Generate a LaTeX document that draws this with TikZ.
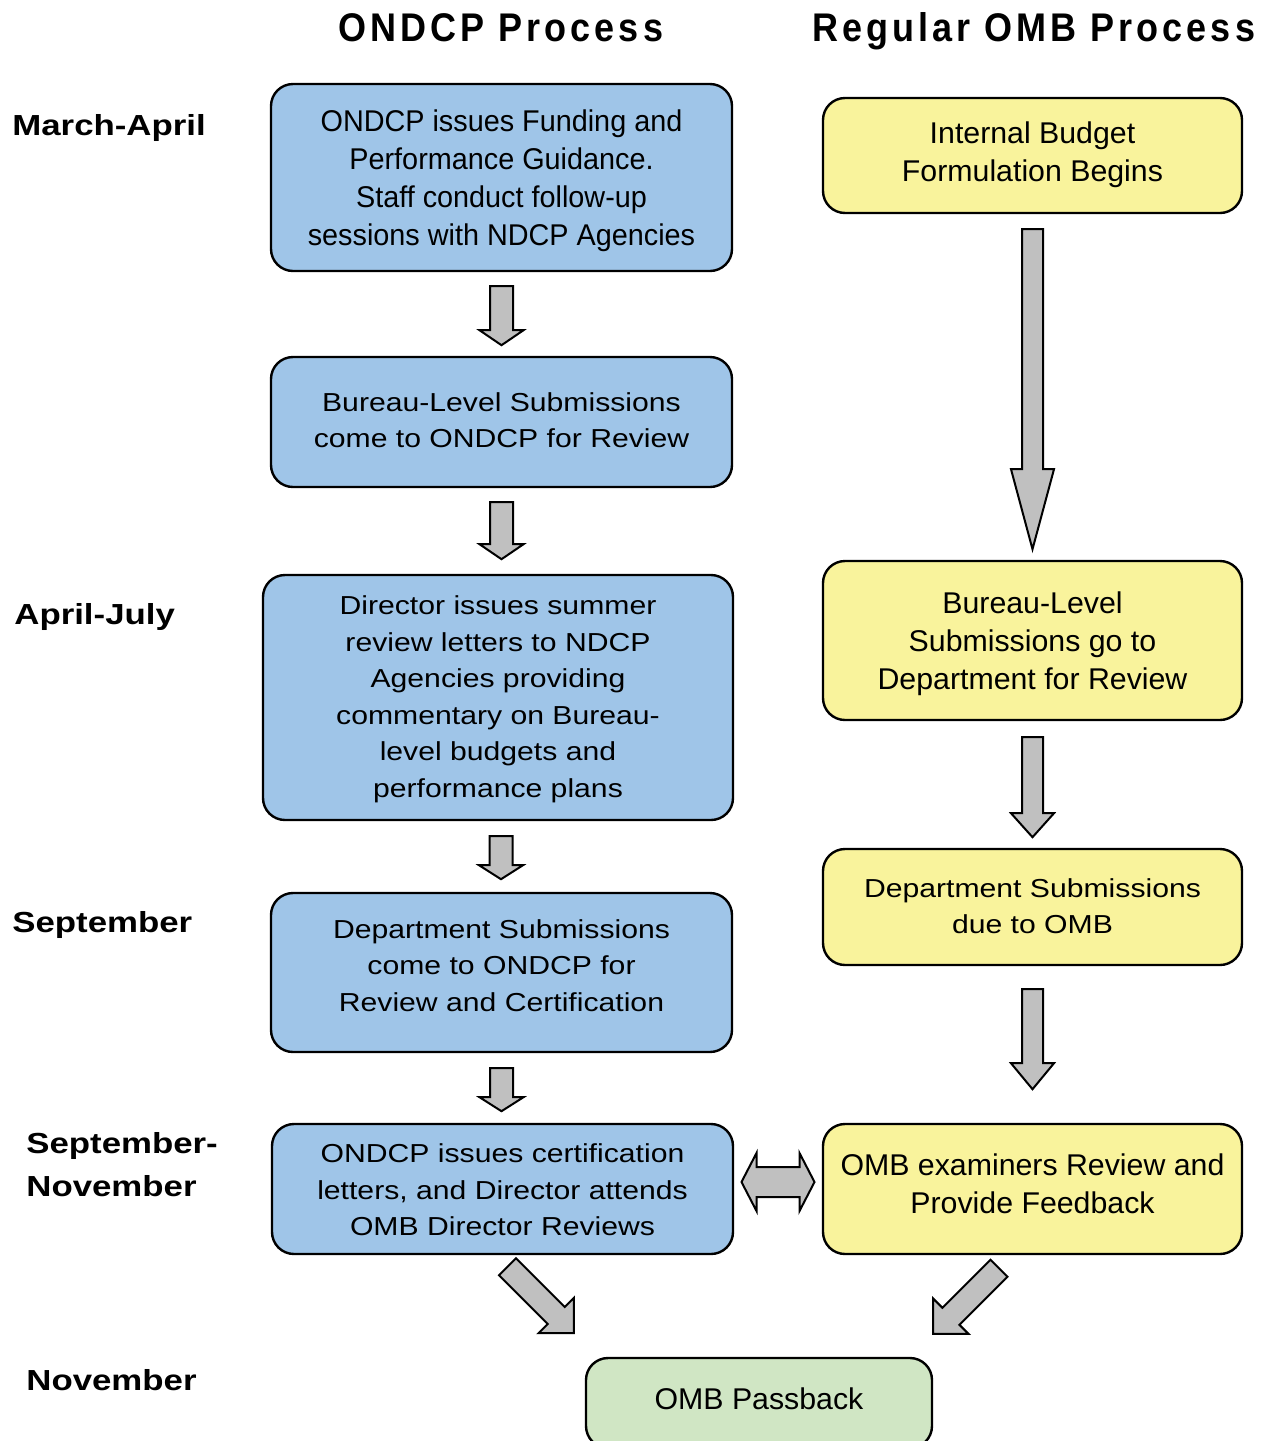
\documentclass[tikz,border=0pt]{standalone}
\usepackage{fontspec}
\setmainfont{Liberation Sans}
\newfontfamily\nfont{Liberation Sans}[FakeStretch=0.96]
\newfontfamily\yfont{Liberation Sans}[FakeStretch=1.01]
\newfontfamily\wfont{Liberation Sans}[FakeStretch=1.16]
\newfontfamily\lfont{Liberation Sans}[FakeStretch=1.2]
\newfontfamily\hfont{Liberation Sans}[FakeStretch=0.9,LetterSpace=10]
\usetikzlibrary{calc}
\definecolor{boxblue}{RGB}{159,197,232}
\definecolor{boxyellow}{RGB}{249,243,156}
\definecolor{boxgreen}{RGB}{208,230,196}
\definecolor{arrgray}{RGB}{192,192,192}
\newcommand\blockarrow[6]{%
  \begin{scope}[shift={#1},rotate=#2]
    \draw[barrow] (0,-#4) -- ({#3-#6},-#4) -- ({#3-#6},-#5) -- (#3,0) -- ({#3-#6},#5) -- ({#3-#6},#4) -- (0,#4) -- cycle;
  \end{scope}}
\begin{document}
\begin{tikzpicture}[x=0.5pt,y=-0.5pt,
  box/.style={draw=black, line width=1.2pt, rounded corners=11pt, inner sep=0pt},
  bluebox/.style={box, fill=boxblue},
  yellowbox/.style={box, fill=boxyellow},
  greenbox/.style={box, fill=boxgreen},
  ntext/.style={font=\nfont\fontsize{15}{19}\selectfont, align=center, inner sep=0pt},
  ytext/.style={font=\yfont\fontsize{15}{19}\selectfont, align=center, inner sep=0pt},
  wtext/.style={font=\wfont\fontsize{13}{18.25}\selectfont, align=center, inner sep=0pt},
  lbl/.style={font=\lfont\bfseries\fontsize{14.5}{21.5}\selectfont, anchor=west, align=left, inner sep=0pt},
  hdr/.style={font=\hfont\bfseries\fontsize{20}{24}\selectfont, inner sep=0pt},
  barrow/.style={draw=black, fill=arrgray, line width=1pt, line join=miter}]
\useasboundingbox (0,0) rectangle (1264,1441);
\clip (0,0) rectangle (1264,1441);
\fill[white] (0,0) rectangle (1264,1441);

% headers
\node[hdr] (h1) at (501,28) {ONDCP Process};
\node[hdr] (h2) at (1034,31) {Regular OMB Process};

% period labels
\node[lbl] (l1) at (12,128) {March-April};
\node[lbl] (l2) at (14,617) {April-July};
\node[lbl] (l3) at (12,925) {September};
\node[lbl] (l4) at (26,1165) {September-\\November};
\node[lbl] (l5) at (26,1380) {November};

% ONDCP column boxes
\node[bluebox, minimum width=230.5pt, minimum height=93.5pt] (b1) at (501.5,177.5) {};
\node[bluebox, minimum width=230.5pt, minimum height=65pt] (b2) at (501.5,422) {};
\node[bluebox, minimum width=235pt, minimum height=122.5pt] (b3) at (498,697.5) {};
\node[bluebox, minimum width=230.5pt, minimum height=79.5pt] (b4) at (501.5,972.5) {};
\node[bluebox, minimum width=230.5pt, minimum height=65pt] (b5) at (502.5,1189) {};

% OMB column boxes
\node[yellowbox, minimum width=209.5pt, minimum height=57.5pt] (y1) at (1032.5,155.5) {};
\node[yellowbox, minimum width=209.5pt, minimum height=79.5pt] (y2) at (1032.5,640.5) {};
\node[yellowbox, minimum width=209.5pt, minimum height=58pt] (y3) at (1032.5,907) {};
\node[yellowbox, minimum width=209.5pt, minimum height=65pt] (y4) at (1032.5,1189) {};

% passback
\node[greenbox, minimum width=173pt, minimum height=45pt] (g) at (759,1403) {};

% box texts
\node[ntext] (b1t) at ($(b1)+(0,3)$)
  {ONDCP issues Funding and\\Performance Guidance.\\Staff conduct follow-up\\sessions with NDCP Agencies};
\node[wtext] (b2t) at ($(b2)+(0,-2)$)
  {Bureau-Level Submissions\\come to ONDCP for Review};
\node[wtext] (b3t) at ($(b3)+(0,2)$)
  {Director issues summer\\review letters to NDCP\\Agencies providing\\commentary on Bureau-\\level budgets and\\performance plans};
\node[wtext] (b4t) at ($(b4)+(0,-7)$)
  {Department Submissions\\come to ONDCP for\\Review and Certification};
\node[wtext] (b5t) at ($(b5)+(0,1)$)
  {ONDCP issues certification\\letters, and Director attends\\OMB Director Reviews};
\node[ytext] (y1t) at ($(y1)+(0,-1)$)
  {Internal Budget\\Formulation Begins};
\node[ytext] (y2t) at ($(y2)+(0,3)$)
  {Bureau-Level\\Submissions go to\\Department for Review};
\node[wtext] (y3t) at ($(y3)+(0,-1)$)
  {Department Submissions\\due to OMB};
\node[ytext] (y4t) at ($(y4)+(0,-5)$)
  {OMB examiners Review and\\Provide Feedback};
\node[ytext] (gt) at ($(g)+(0,-4)$) {OMB Passback};

% left column arrows
\blockarrow{($(b1.south)+(0,14)$)}{-90}{59}{11.5}{22}{15}
\blockarrow{($(b2.south)+(0,14)$)}{-90}{57}{11.5}{22}{15}
\blockarrow{($(b3.south)+(3,15)$)}{-90}{43}{11.5}{22}{14}
\blockarrow{($(b4.south)+(0,15)$)}{-90}{43}{11.5}{22}{14}

% right column arrows
\blockarrow{($(y1.south)+(0,15)$)}{-90}{320}{10.5}{21.5}{80}
\blockarrow{($(y2.south)+(0,16)$)}{-90}{100}{10.5}{21.5}{24}
\blockarrow{($(y3.south)+(0,23)$)}{-90}{100}{10.5}{21.5}{26}

% diagonal arrows to passback
\blockarrow{($(b5.south)+(5,11.5)$)}{-45}{94}{12}{25}{25}
\blockarrow{($(y4.south)+(-33.5,13)$)}{-135}{93}{12}{25}{25}

% double arrow
\begin{scope}[shift={($($(b5.east)!0.5!(y4.west)$)+(0,-7)$)}]
  \draw[barrow] (-36.5,0) -- (-21.5,-29) -- (-21.5,-15) -- (21.5,-15) -- (21.5,-29) -- (36.5,0)
    -- (21.5,29) -- (21.5,15) -- (-21.5,15) -- (-21.5,29) -- cycle;
\end{scope}
\end{tikzpicture}
\end{document}
